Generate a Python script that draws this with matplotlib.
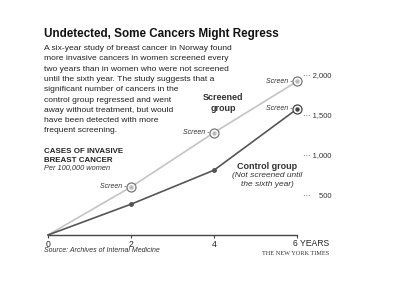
"""Recreation of the NYT chart: invasive breast cancer cases, screened vs control group."""

import matplotlib
matplotlib.use("Agg")
import matplotlib.pyplot as plt

years = [0, 2, 4, 6]
screened = [0, 600, 1280, 1920]
control = [0, 385, 810, 1575]

# points labelled "Screen" (index into years)
screened_screen_idx = [1, 2, 3]
control_screen_idx = [3]

ytick_values = [500, 1000, 1500, 2000]
ytick_labels = ["···    500", "··· 1,000", "··· 1,500", "··· 2,000"]
xtick_values = [0, 2, 4, 6]
xtick_labels = ["0", "2", "4", ""]

body_lines = [
    "A six-year study of breast cancer in Norway found",
    "more invasive cancers in women screened every",
    "two years than in women who were not screened",
    "until the sixth year. The study suggests that a",
    "significant number of cancers in the",
    "control group regressed and went",
    "away without treatment, but would",
    "have been detected with more",
    "frequent screening.",
]

plt.rcParams["font.family"] = ["Liberation Sans", "DejaVu Sans"]

LIGHT = "#c4c4c4"
DARK = "#555555"
TEXT = "#222222"

fig = plt.figure(figsize=(4.02, 3.02), dpi=100)
fig.patch.set_facecolor("white")

W, H = 402, 302
ax = fig.add_axes([48 / W, 1 - 235 / H, (297 - 48) / W, 200 / H])
ax.set_xlim(0, 6)
ax.set_ylim(0, 2500)

for s in ["top", "left", "right"]:
    ax.spines[s].set_visible(False)
ax.spines["bottom"].set_color("#444444")
ax.spines["bottom"].set_linewidth(1.0)

ax.set_xticks(xtick_values)
ax.set_xticklabels(xtick_labels)
ax.tick_params(axis="x", length=2.5, width=0.8, color="#444444", labelsize=6.2,
               labelcolor=TEXT, pad=0.8)

ax.yaxis.tick_right()
ax.set_yticks(ytick_values)
ax.set_yticklabels(ytick_labels)
ax.tick_params(axis="y", length=0, labelsize=5.5, labelcolor="#333333", pad=4)

ax.annotate("6 YEARS", (6, 0), xytext=(-3, -3.2), textcoords="offset points",
            fontsize=6.2, color=TEXT, ha="left", va="top")

ax.plot(years, screened, color=LIGHT, lw=1.2, zorder=2, clip_on=False)
ax.plot(years, control, color=DARK, lw=1.2, zorder=3, clip_on=False)

# small dots on the control line where no screening took place
plain = [i for i in range(1, len(years)) if i not in control_screen_idx]
ax.plot([years[i] for i in plain], [control[i] for i in plain], "o",
        color=DARK, ms=2.5, zorder=4)


def screen_marks(vals, idx, edge, dot):
    xs = [years[i] for i in idx]
    ys = [vals[i] for i in idx]
    ax.plot(xs, ys, "o", ms=6.5, mfc="white", mec=edge, mew=0.9, zorder=5,
            clip_on=False)
    ax.plot(xs, ys, "o", ms=2.2, color=dot, zorder=6, clip_on=False)
    for x, y in zip(xs, ys):
        ax.annotate("Screen -", (x, y), xytext=(-3.5, 0), textcoords="offset points",
                    ha="right", va="center", fontsize=5, style="italic",
                    color="#333333")


screen_marks(screened, screened_screen_idx, "#777777", "#bbbbbb")
screen_marks(control, control_screen_idx, "#444444", "#444444")

# series labels
ax.text(4.22, 1650, "Screened\ngroup", fontsize=6.5, fontweight="bold",
        color="#333333", ha="center", va="center", linespacing=1.15)
ax.text(5.28, 862, "Control group", fontsize=6.5, fontweight="bold",
        color="#333333", ha="center", va="center")
ax.text(5.28, 685, "(Not screened until\nthe sixth year)", fontsize=6,
        style="italic", color="#333333", ha="center", va="center", linespacing=1.3)

# headline and notes
fig.text(44 / W, 1 - 34 / H, "Undetected, Some Cancers Might Regress",
         fontsize=8.4, fontweight="bold", color="#111111", va="center")
for i, line in enumerate(body_lines):
    fig.text(44 / W, 1 - (48.5 + i * 10.3) / H, line, fontsize=6.1,
             color="#222222", va="center")
fig.text(44 / W, 1 - 156 / H, "CASES OF INVASIVE\nBREAST CANCER", fontsize=5.7,
         fontweight="bold", color="#222222", va="center", linespacing=1.25)
fig.text(44 / W, 1 - 168 / H, "Per 100,000 women", fontsize=5.3, style="italic",
         color="#333333", va="center")

fig.text(44 / W, 1 - 251 / H, "Source: Archives of Internal Medicine", fontsize=5,
         style="italic", color="#333333", va="center")
fig.text(329 / W, 1 - 253.3 / H, "THE NEW YORK TIMES", fontsize=4.5,
         family=["Liberation Serif", "DejaVu Serif"], color="#333333",
         ha="right", va="center")

fig.savefig("out.png", dpi=100, facecolor="white")
